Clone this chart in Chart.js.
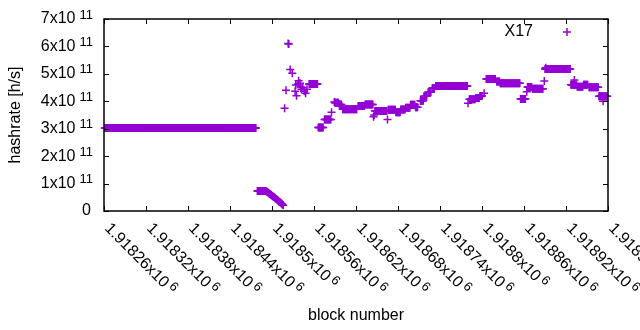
<!DOCTYPE html>
<html>
<head>
<meta charset="utf-8">
<script src="https://cdn.jsdelivr.net/npm/chart.js@4/dist/chart.umd.min.js"></script>
<style>
  html, body { margin: 0; padding: 0; background: #fff; }
  #wrap { width: 640px; height: 330px; }
</style>
</head>
<body>
<div id="wrap"><canvas id="chart"></canvas></div>
<script>
// hashrate values are in units of 1e11 h/s
// runs of blocks that share one value (first block, last block, value)
const runStart = [1918261, 1918479, 1918553, 1918566, 1918575, 1918590, 1918596, 1918601, 1918623, 1918633,
                  1918647, 1918666, 1918677, 1918684, 1918691, 1918698, 1918705, 1918712, 1918717, 1918723,
                  1918729, 1918734, 1918782, 1918791, 1918797, 1918806, 1918821, 1918826, 1918855, 1918865,
                  1918872, 1918890, 1918927, 1918936, 1918945, 1918953, 1918967];
const runEnd   = [1918477, 1918491, 1918565, 1918573, 1918584, 1918595, 1918599, 1918621, 1918632, 1918644,
                  1918664, 1918676, 1918683, 1918690, 1918697, 1918704, 1918708, 1918716, 1918721, 1918727,
                  1918732, 1918779, 1918790, 1918796, 1918800, 1918819, 1918825, 1918854, 1918862, 1918871,
                  1918887, 1918926, 1918935, 1918944, 1918951, 1918966, 1918979];
const runValue = [3.03, 0.73, 4.63, 3.04, 3.34, 3.95, 3.88, 3.71, 3.83, 3.88,
                  3.65, 3.69, 3.60, 3.70, 3.76, 3.87, 3.78, 4.02, 4.18, 4.33,
                  4.48, 4.56, 4.07, 4.12, 4.19, 4.81, 4.72, 4.66, 4.08, 4.52,
                  4.46, 5.18, 4.60, 4.53, 4.60, 4.51, 4.18];

// single blocks (the falling tail and the scattered points)
const pointBlock = [1918492, 1918493, 1918494, 1918495, 1918496, 1918497, 1918498, 1918499, 1918500, 1918501,
                    1918502, 1918503, 1918504, 1918505, 1918506, 1918507, 1918508, 1918509, 1918510, 1918511,
                    1918512, 1918513, 1918514, 1918515, 1918516,
                    1918518, 1918520, 1918523, 1918524, 1918526, 1918529, 1918533, 1918534, 1918535, 1918537,
                    1918538, 1918540, 1918541, 1918542, 1918544, 1918546, 1918548, 1918550,
                    1918585, 1918589, 1918645, 1918646, 1918665, 1918780, 1918803, 1918864, 1918889, 1918891,
                    1918932, 1918973];
const pointValue = [0.71, 0.70, 0.68, 0.66, 0.64, 0.62, 0.60, 0.58, 0.56, 0.54,
                    0.52, 0.50, 0.48, 0.46, 0.44, 0.42, 0.40, 0.37, 0.35, 0.33,
                    0.31, 0.28, 0.26, 0.23, 0.21,
                    3.75, 4.40, 6.11, 6.09, 5.16, 5.02, 4.37, 4.59, 4.20, 4.63,
                    4.75, 4.66, 4.53, 4.44, 4.50, 4.37, 4.29, 4.44,
                    3.60, 3.97, 3.44, 3.50, 3.34, 3.93, 4.29, 4.35, 4.74, 5.22,
                    4.78, 4.00];

const xTicks = [1918260, 1918320, 1918380, 1918440, 1918500, 1918560, 1918620,
                1918680, 1918740, 1918800, 1918860, 1918920, 1918980];
const xTickLabels = ['1.91826', '1.91832', '1.91838', '1.91844', '1.9185', '1.91856', '1.91862',
                     '1.91868', '1.91874', '1.9188', '1.91886', '1.91892', '1.91898'];
const yTicks = [0, 1e11, 2e11, 3e11, 4e11, 5e11, 6e11, 7e11];
const yTickLabels = ['0', '1', '2', '3', '4', '5', '6', '7'];

const purple = '#9400d3';
const font = '"Liberation Sans", Arial, sans-serif';

// one point per block
const points = [];
runStart.forEach((s, i) => {
    for (let b = s; b <= runEnd[i]; b++) {
        points.push({ x: b, y: runValue[i] * 1e11 });
    }
});
pointBlock.forEach((b, i) => points.push({ x: b, y: pointValue[i] * 1e11 }));

// gnuplot style frame, ticks and labels
const frame = {
    id: 'frame',
    afterDraw(chart) {
        const { ctx, chartArea: a, scales: { x, y } } = chart;
        ctx.save();
        ctx.strokeStyle = '#000';
        ctx.fillStyle = '#000';
        ctx.lineWidth = 1.5;
        ctx.strokeRect(a.left, a.top, a.right - a.left, a.bottom - a.top);

        ctx.lineWidth = 1;
        ctx.beginPath();
        xTicks.forEach(v => {
            const px = Math.round(x.getPixelForValue(v)) + 0.5;
            ctx.moveTo(px, a.bottom); ctx.lineTo(px, a.bottom - 5);
            ctx.moveTo(px, a.top); ctx.lineTo(px, a.top + 5);
        });
        yTicks.forEach(v => {
            const py = Math.round(y.getPixelForValue(v)) + 0.5;
            ctx.moveTo(a.left, py); ctx.lineTo(a.left + 5, py);
            ctx.moveTo(a.right, py); ctx.lineTo(a.right - 5, py);
        });
        ctx.stroke();

        // y tick labels: "Nx10" with superscript 11
        ctx.textBaseline = 'middle';
        yTicks.forEach((v, i) => {
            const py = y.getPixelForValue(v);
            if (v === 0) {
                ctx.font = '16px ' + font;
                ctx.textAlign = 'right';
                ctx.fillText('0', 91, py);
                return;
            }
            ctx.font = '13px ' + font;
            ctx.textAlign = 'right';
            ctx.fillText('11', 93, py - 4);
            const w = ctx.measureText('11').width;
            ctx.font = '16px ' + font;
            ctx.fillText(yTickLabels[i] + 'x10', 93 - w - 4, py);
        });

        // x tick labels, rotated down to the right
        xTicks.forEach((v, i) => {
            const px = x.getPixelForValue(v);
            ctx.save();
            ctx.translate(px + 3, a.bottom + 15);
            ctx.rotate(Math.PI / 4);
            ctx.textAlign = 'left';
            ctx.font = '16px ' + font;
            const txt = xTickLabels[i] + 'x10';
            ctx.fillText(txt, 0, 0);
            const w = ctx.measureText(txt).width;
            ctx.font = '13px ' + font;
            ctx.fillText('6', w + 3, -4);
            ctx.restore();
        });

        // axis titles
        ctx.font = '16px ' + font;
        ctx.textAlign = 'center';
        ctx.fillText('block number', (a.left + a.right) / 2, 316);
        ctx.save();
        ctx.translate(16, (a.top + a.bottom) / 2);
        ctx.rotate(-Math.PI / 2);
        ctx.fillText('hashrate [h/s]', 0, 0);
        ctx.restore();

        // key
        ctx.textAlign = 'right';
        ctx.fillText('X17', 533, 32);
        ctx.strokeStyle = purple;
        ctx.lineWidth = 1.5;
        ctx.beginPath();
        ctx.moveTo(563, 32); ctx.lineTo(571, 32);
        ctx.moveTo(567, 28); ctx.lineTo(567, 36);
        ctx.stroke();
        ctx.restore();
    }
};

new Chart(document.getElementById('chart'), {
    type: 'scatter',
    data: {
        datasets: [{
            label: 'X17',
            data: points,
            pointStyle: 'cross',
            pointRadius: 4,
            borderWidth: 1.5,
            borderColor: purple,
            backgroundColor: purple,
            clip: false,
        }]
    },
    options: {
        responsive: true,
        maintainAspectRatio: false,
        animation: false,
        events: [],
        layout: { padding: { left: 104, right: 32, top: 19, bottom: 119 } },
        scales: {
            x: { type: 'linear', min: 1918260, max: 1918980, display: false },
            y: { type: 'linear', min: 0, max: 7e11, display: false }
        },
        plugins: {
            legend: { display: false },
            tooltip: { enabled: false }
        }
    },
    plugins: [frame]
});
</script>
</body>
</html>
